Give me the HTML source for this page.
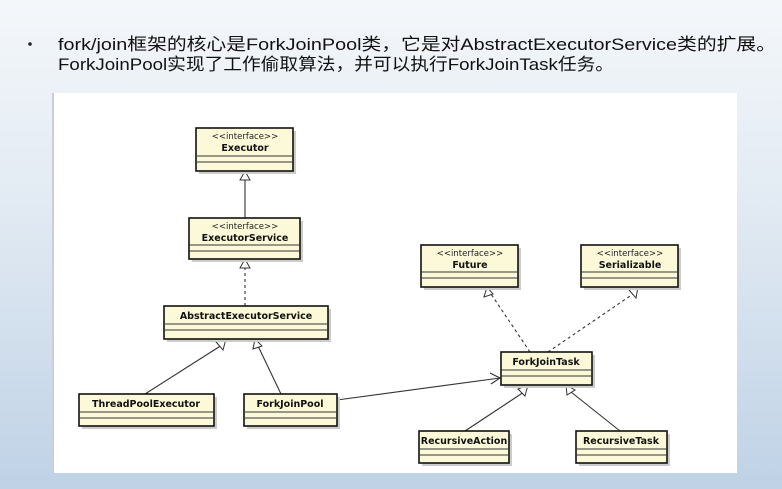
<!DOCTYPE html>
<html><head><meta charset="utf-8"><style>
html,body{margin:0;padding:0;width:782px;height:489px;overflow:hidden;}
body{background:linear-gradient(180deg,#f4f7fa 0%,#e0e9f2 45%,#bfd2e6 100%);}
svg{position:absolute;left:0;top:0;}
.t{font-family:"Liberation Sans","Noto Sans CJK SC",sans-serif;font-size:17px;fill:#111;}
.s{font-family:"DejaVu Sans",sans-serif;font-size:8.5px;fill:#222;text-anchor:middle;}
.b{font-family:"DejaVu Sans",sans-serif;font-size:9.5px;font-weight:bold;fill:#111;text-anchor:middle;}
</style></head><body>
<svg width="782" height="489" viewBox="0 0 782 489">
<circle cx="30" cy="44" r="1.8" fill="#222"/>
<text class="t" x="58" y="50" textLength="718" lengthAdjust="spacingAndGlyphs">fork/join框架的核心是ForkJoinPool类，它是对AbstractExecutorService类的扩展。</text>
<text class="t" x="58" y="70" textLength="556" lengthAdjust="spacingAndGlyphs">ForkJoinPool实现了工作偷取算法，并可以执行ForkJoinTask任务。</text>
<rect x="52" y="93" width="685" height="380" fill="#fff"/>
<rect x="52" y="93" width="2" height="380" fill="#ccd"/>
<g stroke="#333" stroke-width="1.1" fill="none">
<line x1="245" y1="218" x2="245" y2="179"/>
<line x1="245" y1="306" x2="245" y2="267" stroke-dasharray="3,3"/>
<line x1="145" y1="394" x2="222" y2="345"/>
<line x1="281" y1="394" x2="258" y2="346"/>
<line x1="337" y1="400" x2="500" y2="378"/>
<polyline points="490,373 500,378 491,384"/>
<line x1="530" y1="352" x2="491" y2="294" stroke-dasharray="3,3"/>
<line x1="548" y1="352" x2="633" y2="294" stroke-dasharray="3,3"/>
<line x1="465" y1="431" x2="524" y2="392"/>
<line x1="620" y1="431" x2="571" y2="392"/>
</g>
<g stroke="#333" stroke-width="1" fill="#fff">
<polygon points="245,171 240,180 250,180"/>
<polygon points="245,259 240,268 250,268"/>
<polygon points="226,339 216,342 223,350"/>
<polygon points="255,339 253,349 262,346"/>
<polygon points="487,287 484,297 493,294"/>
<polygon points="638,287 629,290 636,298"/>
<polygon points="528,385 518,389 525,396"/>
<polygon points="566,385 567,395 575,390"/>
</g>
<g fill="#ccc">
<rect x="199" y="131" width="97" height="43"/>
<rect x="192" y="221" width="111" height="41"/>
<rect x="167" y="309" width="164" height="33"/>
<rect x="82" y="397" width="135" height="32"/>
<rect x="247" y="397" width="93" height="32"/>
<rect x="424" y="248" width="97" height="42"/>
<rect x="584" y="248" width="97" height="42"/>
<rect x="504" y="355" width="91" height="33"/>
<rect x="422" y="434" width="90" height="32"/>
<rect x="579" y="434" width="91" height="32"/>
</g>
<g stroke="#111" stroke-width="1.6" fill="#fcf9d8">
<rect x="196" y="128" width="97" height="43"/>
<rect x="189" y="218" width="111" height="41"/>
<rect x="164" y="306" width="164" height="33"/>
<rect x="79" y="394" width="135" height="32"/>
<rect x="244" y="394" width="93" height="32"/>
<rect x="421" y="245" width="97" height="42"/>
<rect x="581" y="245" width="97" height="42"/>
<rect x="501" y="352" width="91" height="33"/>
<rect x="419" y="431" width="90" height="32"/>
<rect x="576" y="431" width="91" height="32"/>
</g>
<g stroke="#333" stroke-width="1">
<line x1="196" y1="156" x2="293" y2="156"/><line x1="196" y1="162" x2="293" y2="162"/>
<line x1="189" y1="245" x2="300" y2="245"/><line x1="189" y1="251" x2="300" y2="251"/>
<line x1="164" y1="324" x2="328" y2="324"/><line x1="164" y1="330" x2="328" y2="330"/>
<line x1="79" y1="412" x2="214" y2="412"/><line x1="79" y1="418" x2="214" y2="418"/>
<line x1="244" y1="412" x2="337" y2="412"/><line x1="244" y1="418" x2="337" y2="418"/>
<line x1="421" y1="272" x2="518" y2="272"/><line x1="421" y1="278" x2="518" y2="278"/>
<line x1="581" y1="272" x2="678" y2="272"/><line x1="581" y1="278" x2="678" y2="278"/>
<line x1="501" y1="370" x2="592" y2="370"/><line x1="501" y1="376" x2="592" y2="376"/>
<line x1="419" y1="449" x2="509" y2="449"/><line x1="419" y1="455" x2="509" y2="455"/>
<line x1="576" y1="449" x2="667" y2="449"/><line x1="576" y1="455" x2="667" y2="455"/>
</g>
<text class="s" x="245" y="139">&lt;&lt;interface&gt;&gt;</text><text class="b" x="245" y="151">Executor</text>
<text class="s" x="245" y="229">&lt;&lt;interface&gt;&gt;</text><text class="b" x="245" y="241">ExecutorService</text>
<text class="b" x="246" y="319">AbstractExecutorService</text>
<text class="b" x="146" y="407">ThreadPoolExecutor</text>
<text class="b" x="290" y="407">ForkJoinPool</text>
<text class="s" x="470" y="256">&lt;&lt;interface&gt;&gt;</text><text class="b" x="470" y="268">Future</text>
<text class="s" x="630" y="256">&lt;&lt;interface&gt;&gt;</text><text class="b" x="630" y="268">Serializable</text>
<text class="b" x="546" y="365">ForkJoinTask</text>
<text class="b" x="464" y="444">RecursiveAction</text>
<text class="b" x="621" y="444">RecursiveTask</text>
</svg>
</body></html>
